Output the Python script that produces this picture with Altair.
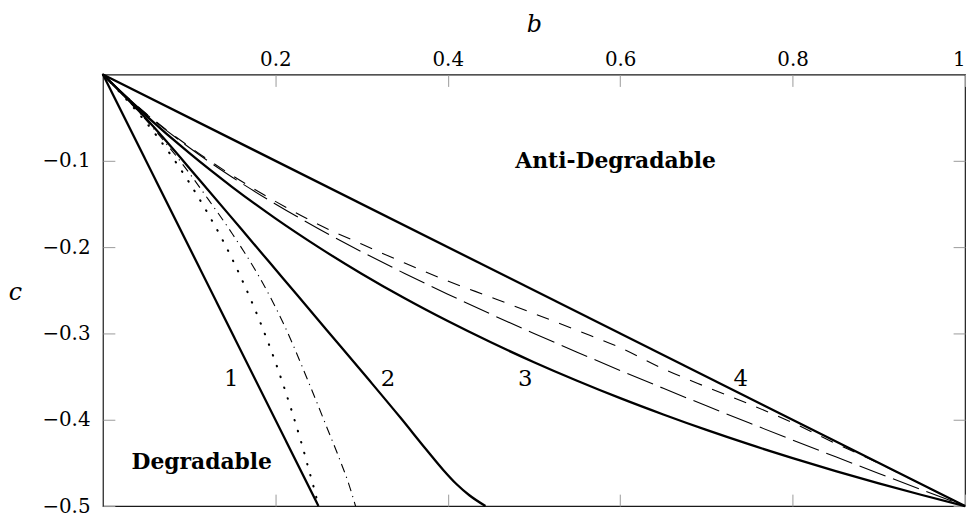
import altair as alt
import pandas as pd

# ---- data ----
line1_b = [0.0, 0.25]
line1_c = [0.0, -0.5]

line4_b = [0.0, 1.0]
line4_c = [0.0, -0.5]

dotted_b = [0.0, 0.02, 0.04, 0.06, 0.08, 0.10, 0.12, 0.14, 0.16, 0.18, 0.20, 0.21, 0.22, 0.23, 0.24, 0.245, 0.25]
dotted_c = [0.0, -0.021, -0.0435, -0.068, -0.095, -0.125, -0.158, -0.194, -0.235, -0.281, -0.333, -0.362, -0.393, -0.426, -0.462, -0.480, -0.5]

dashdot_b = [0.0, 0.03, 0.06, 0.09, 0.12, 0.15, 0.18, 0.21, 0.24, 0.26, 0.275, 0.285, 0.293]
dashdot_c = [0.0, -0.0309, -0.0642, -0.1008, -0.1416, -0.1845, -0.2322, -0.2898, -0.36, -0.4095, -0.4469, -0.474, -0.5]

line2_b = [0.0, 0.05, 0.1128, 0.16, 0.21, 0.26, 0.307, 0.345, 0.375, 0.395, 0.41, 0.425, 0.4437]
line2_c = [0.0, -0.051, -0.123, -0.1785, -0.2375, -0.2965, -0.352, -0.3975, -0.4345, -0.4585, -0.4745, -0.4875, -0.5]

line3_b = [0.0, 0.05, 0.1, 0.15, 0.2, 0.25, 0.3, 0.35, 0.4, 0.45, 0.5, 0.55, 0.6, 0.65, 0.7, 0.75, 0.8, 0.85, 0.9, 0.95, 1.0]
line3_c = [0.0, -0.0476, -0.0909, -0.1304, -0.1667, -0.2, -0.2308, -0.2593, -0.2857, -0.3103, -0.3333, -0.3548,
           -0.375, -0.3939, -0.4118, -0.4286, -0.4444, -0.4595, -0.4737, -0.4872, -0.5]

longdash_b = [0.0, 0.05, 0.1, 0.15, 0.2, 0.25, 0.3, 0.35, 0.4, 0.45, 0.5, 0.55, 0.6, 0.65, 0.7, 0.75, 0.8, 0.85, 0.9, 0.95, 1.0]
longdash_c = [0.0, -0.0457, -0.0846, -0.119, -0.15, -0.1786, -0.2053, -0.2305, -0.2545, -0.2777, -0.3, -0.3217,
              -0.3429, -0.3636, -0.3839, -0.4038, -0.4235, -0.443, -0.4622, -0.4812, -0.5]

shortdash_b = [0.0, 0.05, 0.1, 0.15, 0.2, 0.25, 0.3, 0.35, 0.4, 0.45, 0.5, 0.55, 0.6, 0.65, 0.7, 0.75, 0.8, 0.85, 0.9, 0.95, 1.0]
shortdash_c = [0.0, -0.0452, -0.0835, -0.117, -0.147, -0.1738, -0.1965, -0.2184, -0.2392, -0.258, -0.277, -0.2965,
               -0.3165, -0.341, -0.362, -0.382, -0.4035, -0.4275, -0.4505, -0.4752, -0.5]

# annotations
num_text = ["1", "2", "3", "4"]
num_b = [0.1488, 0.3306, 0.49, 0.7397]
num_c = [-0.3609, -0.3609, -0.3609, -0.3609]

region_text = ["Anti-Degradable", "Degradable"]
region_b = [0.5947, 0.1146]
region_c = [-0.1084, -0.457]

x_ticks = [0.2, 0.4, 0.6, 0.8, 1.0]
y_ticks = [-0.1, -0.2, -0.3, -0.4, -0.5]

# ---- tables ----
series = {
    "line1": (line1_b, line1_c),
    "line4": (line4_b, line4_c),
    "dotted": (dotted_b, dotted_c),
    "dashdot": (dashdot_b, dashdot_c),
    "line2": (line2_b, line2_c),
    "line3": (line3_b, line3_c),
    "longdash": (longdash_b, longdash_c),
    "shortdash": (shortdash_b, shortdash_c),
}
rows = []
for name, (bs, cs) in series.items():
    for i, (bv, cv) in enumerate(zip(bs, cs)):
        rows.append({"series": name, "b": bv, "c": cv, "i": i})
df = pd.DataFrame(rows)

nums = pd.DataFrame({"t": num_text, "b": num_b, "c": num_c})
regions = pd.DataFrame({"t": region_text, "b": region_b, "c": region_c})

xs = alt.Scale(domain=[0, 1], nice=False, zero=False)
ys = alt.Scale(domain=[-0.5, 0], nice=False, zero=False)

FONT = "'DejaVu Serif', 'Liberation Serif', 'Times New Roman', serif"
TICK_COLOR = "#9a9a9a"

top_axis = alt.Axis(orient="top", values=x_ticks, offset=-12, tickSize=12, domain=False, grid=False,
                    tickColor=TICK_COLOR, tickWidth=1, labelFont=FONT, labelFontSize=20,
                    labelColor="#000", labelPadding=5, labelFlush=True, labelOverlap=False,
                    labelExpr="datum.value == 1 ? '1' : format(datum.value, '.1f')",
                    title="b", titleFont=FONT, titleFontStyle="italic", titleFontWeight="normal",
                    titleFontSize=24, titleColor="#000", titleY=-55, titleBaseline="alphabetic")
left_axis = alt.Axis(orient="left", values=y_ticks, offset=-12, tickSize=12, domain=False, grid=False,
                     tickColor=TICK_COLOR, tickWidth=1, labelFont=FONT, labelFontSize=20,
                     labelColor="#000", labelPadding=13, labelFlush=False, labelOverlap=False,
                     labelExpr="'\u2212' + format(-datum.value, '.1f')",
                     title="c", titleFont=FONT, titleFontStyle="italic", titleFontWeight="normal",
                     titleFontSize=24, titleColor="#000", titleAngle=0, titleAlign="center",
                     titleX=-100.7, titleY=227, titleBaseline="alphabetic")
bottom_axis = alt.Axis(orient="bottom", values=x_ticks, offset=-12, tickSize=12, domain=False, grid=False,
                       tickColor=TICK_COLOR, tickWidth=1, labels=False, title="")
right_axis = alt.Axis(orient="right", values=y_ticks, offset=-12, tickSize=12, domain=False, grid=False,
                      tickColor=TICK_COLOR, tickWidth=1, labels=False, title="")


def curve(name, xaxis=None, yaxis=None, **mk):
    base = alt.Chart(df).transform_filter(alt.datum.series == name)
    xenc = alt.X("b:Q", scale=xs, axis=xaxis)
    yenc = alt.Y("c:Q", scale=ys, axis=yaxis)
    return base.mark_line(color="black", interpolate="monotone", **mk).encode(
        x=xenc, y=yenc, order="i:Q")


solid = dict(strokeWidth=2.3)
layers = [
    curve("line1", top_axis, left_axis, **solid),
    curve("line4", bottom_axis, right_axis, **solid),
    curve("line2", **solid),
    curve("line3", **solid),
    curve("dotted", strokeWidth=2.1, strokeDash=[0.5, 11], strokeCap="round"),
    curve("dashdot", strokeWidth=1.1, strokeDash=[9, 5, 1.2, 5]),
    curve("longdash", strokeWidth=1.1, strokeDash=[28, 8]),
    curve("shortdash", strokeWidth=1.1, strokeDash=[13, 11]),
    alt.Chart(nums).mark_text(font=FONT, fontSize=23, color="black", align="center",
                              baseline="alphabetic").encode(
        x=alt.X("b:Q", scale=xs, axis=None), y=alt.Y("c:Q", scale=ys, axis=None), text="t:N"),
    alt.Chart(regions).mark_text(font=FONT, fontSize=22, fontWeight="bold", color="black",
                                 align="center", baseline="alphabetic").encode(
        x=alt.X("b:Q", scale=xs, axis=None), y=alt.Y("c:Q", scale=ys, axis=None), text="t:N"),
]

chart = alt.layer(*layers).resolve_axis(x="independent", y="independent").properties(
    width=869, height=435,
    autosize=alt.AutoSizeParams(type="none"),
    padding={"left": 95.7, "top": 65, "right": 4, "bottom": 10},
    background="white",
).configure_view(stroke="#1a1a1a", strokeWidth=1.2)

chart.save("out.html", embed_options={"renderer": "svg", "actions": False})
